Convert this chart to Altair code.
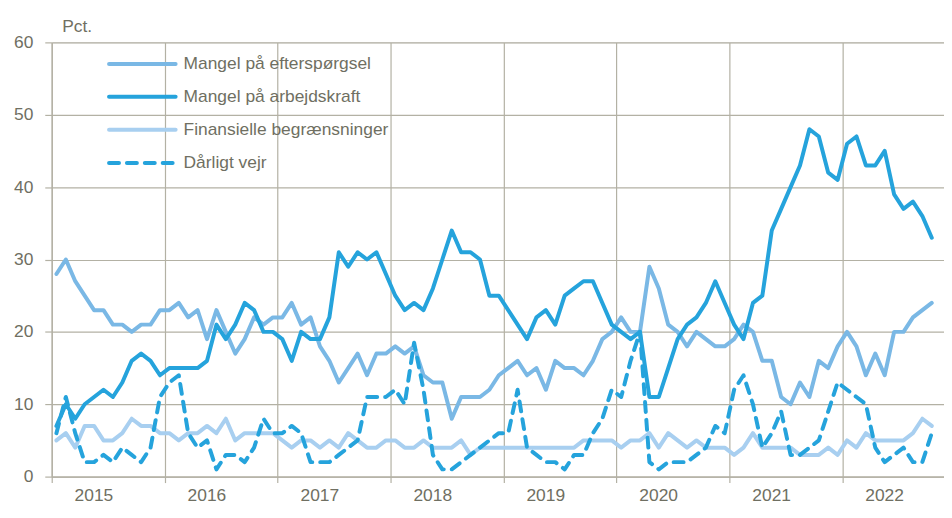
import altair as alt
import pandas as pd

# ---- data (monthly, Jan 2015 - Oct 2022), percent ----
series_names = [
    "Mangel på efterspørgsel",
    "Mangel på arbejdskraft",
    "Finansielle begrænsninger",
    "Dårligt vejr",
]
first_year = 2015
year_ticks = [0, 12, 24, 36, 48, 60, 72, 84]   # month index of each January

efterspoergsel = [28, 30, 27, 25, 23, 23, 21, 21, 20, 21, 21, 23,
                  23, 24, 22, 23, 19, 23, 20, 17, 19, 22, 21, 22,
                  22, 24, 21, 22, 18, 16, 13, 15, 17, 14, 17, 17,
                  18, 17, 18, 14, 13, 13, 8, 11, 11, 11, 12, 14,
                  15, 16, 14, 15, 12, 16, 15, 15, 14, 16, 19, 20,
                  22, 20, 20, 29, 26, 21, 20, 18, 20, 19, 18, 18,
                  19, 21, 20, 16, 16, 11, 10, 13, 11, 16, 15, 18,
                  20, 18, 14, 17, 14, 20, 20, 22, 23, 24]
arbejdskraft = [7, 10, 8, 10, 11, 12, 11, 13, 16, 17, 16, 14,
                15, 15, 15, 15, 16, 21, 19, 21, 24, 23, 20, 20,
                19, 16, 20, 19, 19, 22, 31, 29, 31, 30, 31, 28,
                25, 23, 24, 23, 26, 30, 34, 31, 31, 30, 25, 25,
                23, 21, 19, 22, 23, 21, 25, 26, 27, 27, 24, 21,
                20, 19, 20, 11, 11, 15, 19, 21, 22, 24, 27, 24,
                21, 19, 24, 25, 34, 37, 40, 43, 48, 47, 42, 41,
                46, 47, 43, 43, 45, 39, 37, 38, 36, 33]
finansielle = [5, 6, 4, 7, 7, 5, 5, 6, 8, 7, 7, 6,
               6, 5, 6, 6, 7, 6, 8, 5, 6, 6, 6, 6,
               5, 4, 5, 5, 4, 5, 4, 6, 5, 4, 4, 5,
               5, 4, 4, 5, 4, 4, 4, 5, 3, 4, 4, 4,
               4, 4, 4, 4, 4, 4, 4, 4, 5, 5, 5, 5,
               4, 5, 5, 6, 4, 6, 5, 4, 5, 4, 4, 4,
               3, 4, 6, 4, 4, 4, 4, 3, 3, 3, 4, 3,
               5, 4, 6, 5, 5, 5, 5, 6, 8, 7]
daarligt_vejr = [6, 11, 6, 2, 2, 3, 2, 4, 3, 2, 4, 11,
                 13, 14, 6, 4, 5, 1, 3, 3, 2, 4, 8, 6,
                 6, 7, 6, 2, 2, 2, 3, 4, 5, 11, 11, 11,
                 12, 10, 18.5, 12, 3, 1, 1, 2, 3, 4, 5, 6,
                 6, 12, 4, 3, 2, 2, 1, 3, 3, 6, 8, 12,
                 11, 16, 20, 2, 1, 2, 2, 2, 3, 4, 7, 6,
                 12, 14, 10, 4, 6, 9, 3, 3, 4, 5, 9, 13,
                 12, 11, 10, 4, 2, 3, 4, 2, 2, 6]

all_values = [efterspoergsel, arbejdskraft, finansielle, daarligt_vejr]

# ---- styles ----
colors = ["#7ab8e5", "#25a3dc", "#a8cff0", "#25a3dc"]
dashes = [None, None, None, [10, 8]]
TXT = "#6f6f62"
GRID = "#b3b1a4"
FS = 17.5
W, H = 898, 437

x_scale = alt.Scale(domain=[0, 94.8], nice=False, zero=False)
y_scale = alt.Scale(domain=[0, 60], nice=False, zero=True)

x_axis = alt.Axis(values=year_ticks, labelExpr=f"'' + ({first_year} + datum.value / 12)",
                  labelOffset=42, labelPadding=4, labelFontSize=FS, labelColor=TXT,
                  labelFlush=False, labelOverlap=False, labelBound=False,
                  grid=True, gridColor=GRID, gridWidth=1.2,
                  ticks=True, tickSize=6, tickColor=GRID, tickWidth=1.2,
                  domain=True, domainColor=GRID, domainWidth=1.2, title=None)
y_axis = alt.Axis(values=[0, 10, 20, 30, 40, 50, 60], labelFontSize=FS, labelColor=TXT,
                  labelPadding=12, grid=True, gridColor=GRID, gridWidth=1.2,
                  ticks=True, tickSize=7, tickColor=GRID, tickWidth=1.2,
                  domain=True, domainColor=GRID, domainWidth=1.2,
                  title="Pct.", titleAngle=0, titleAlign="left", titleBaseline="alphabetic",
                  titleX=10, titleY=-10.5, titleFontSize=FS, titleFontWeight="normal",
                  titleColor=TXT)

layers = []
for k, (name, vals) in enumerate(zip(series_names, all_values)):
    df = pd.DataFrame({"m": [i + 0.5 for i in range(len(vals))], "v": vals, "series": name})
    mark_kw = dict(color=colors[k], strokeWidth=4, strokeCap="round", strokeJoin="round")
    if dashes[k]:
        mark_kw["strokeDash"] = dashes[k]
    layers.append(
        alt.Chart(df).mark_line(**mark_kw).encode(
            x=alt.X("m:Q", scale=x_scale, axis=x_axis),
            y=alt.Y("v:Q", scale=y_scale, axis=y_axis),
        )
    )

# ---- legend (inside plot, top-left) ----
legend_rows = [21.7, 54.7, 88, 121.3]
for k, name in enumerate(series_names):
    ldf = pd.DataFrame({"label": [name]})
    rule_kw = dict(color=colors[k], strokeWidth=4, strokeCap="round")
    if dashes[k]:
        rule_kw["strokeDash"] = dashes[k]
    layers.append(
        alt.Chart(ldf).mark_rule(**rule_kw).encode(
            x=alt.value(57.7), x2=alt.value(124.7), y=alt.value(legend_rows[k])
        )
    )
    layers.append(
        alt.Chart(ldf).mark_text(align="left", baseline="middle", fontSize=FS, color=TXT).encode(
            x=alt.value(132.7), y=alt.value(legend_rows[k]), text="label:N"
        )
    )

chart = (
    alt.layer(*layers)
    .properties(width=W, height=H,
                padding={"left": 44, "top": 33, "right": 0, "bottom": 32},
                autosize=alt.AutoSizeParams(type="none"))
    .configure_view(strokeWidth=0, stroke="transparent")
    .configure(font="Liberation Sans")
)

chart.save("out.html", embed_options={"renderer": "svg", "actions": False})
